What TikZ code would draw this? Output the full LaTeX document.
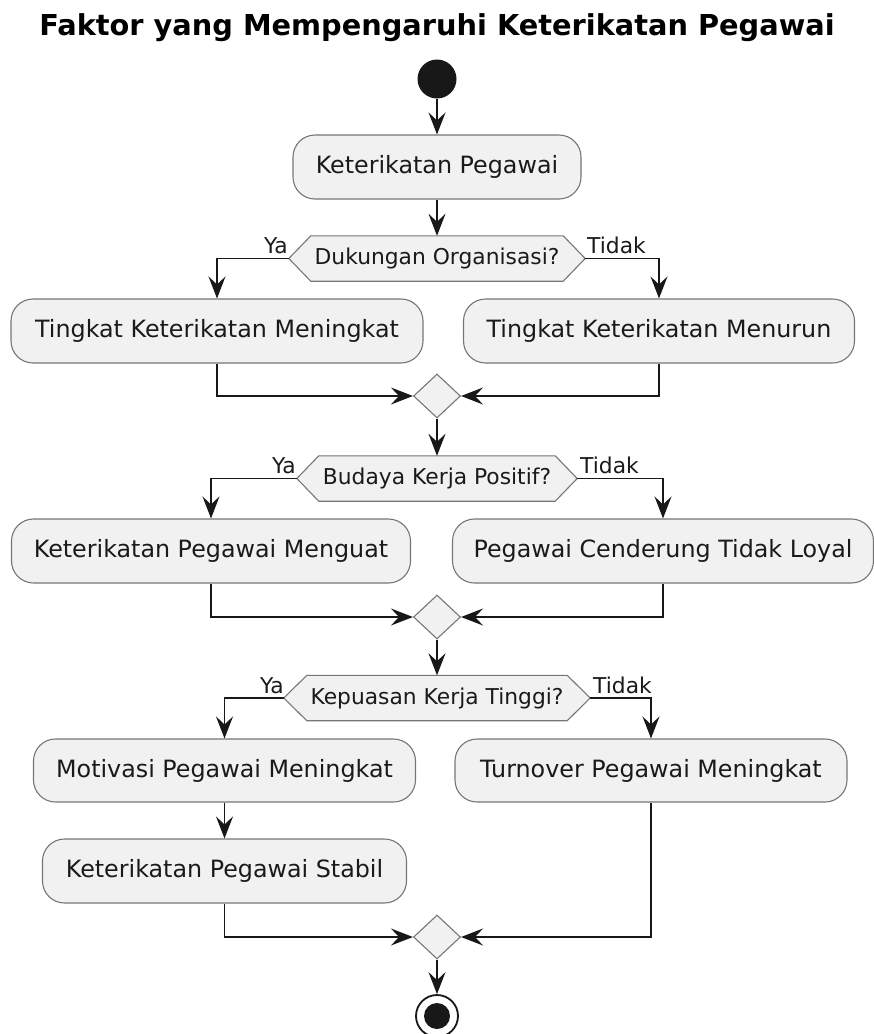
\documentclass[tikz,border=0pt]{standalone}
\usepackage{fontspec}
\setmainfont{DejaVu Sans}
\usetikzlibrary{arrows.meta,shapes.geometric,backgrounds}
\definecolor{actfill}{HTML}{F1F1F1}
\definecolor{bordc}{HTML}{767676}
\definecolor{linec}{HTML}{181818}
\definecolor{txtc}{HTML}{1A1A1A}
\tikzset{
  actbox/.style={draw=bordc, line width=1.1pt, fill=actfill, rounded corners=22pt,
    minimum height=64pt, inner sep=0pt, text=txtc, font=\fontsize{23.8}{28}\selectfont},
  hextext/.style={inner sep=0pt, minimum height=45pt, text=txtc, font=\fontsize{21.8}{26}\selectfont},
  hexline/.style={draw=bordc, line width=1.1pt, fill=actfill},
  mergeD/.style={diamond, draw=bordc, line width=1.1pt, fill=actfill, inner sep=0pt,
    minimum width=47pt, minimum height=44pt},
  flow/.style={draw=linec, line width=1.5pt, -{Stealth[length=22pt,width=17pt,inset=8pt]}},
  lbl/.style={inner sep=0pt, text=txtc, font=\fontsize{21.8}{26}\selectfont},
  titlest/.style={inner sep=0pt, text=black, font=\fontsize{28.8}{34}\selectfont\bfseries}
}
\begin{document}
\begin{tikzpicture}[x=1pt,y=-1pt]
\useasboundingbox (0,0) rectangle (874,1034);
% title
\node[titlest, anchor=base] (title) at (437,35) {Faktor yang Mempengaruhi Keterikatan Pegawai};
% start
\node[circle, fill=linec, inner sep=0pt, minimum size=39pt] (start) at (437,79) {};
% first activity
\node[actbox, minimum width=288pt] (b0) at (437,167) {Keterikatan Pegawai};
% decision 1
\node[hextext, minimum width=252pt] (h1) at (437,258.5) {Dukungan Organisasi?};
\coordinate (h1l) at ([xshift=-22pt]h1.west);
\coordinate (h1r) at ([xshift=22pt]h1.east);
\node[actbox, minimum width=412pt] (b1) at (217,331) {Tingkat Keterikatan Meningkat};
\node[actbox, minimum width=391pt] (b2) at (659,331) {Tingkat Keterikatan Menurun};
\node[mergeD] (d1) at (437,396) {};
% decision 2
\node[hextext, minimum width=236pt] (h2) at (437,478.5) {Budaya Kerja Positif?};
\coordinate (h2l) at ([xshift=-22pt]h2.west);
\coordinate (h2r) at ([xshift=22pt]h2.east);
\node[actbox, minimum width=399pt] (b3) at (211,551) {Keterikatan Pegawai Menguat};
\node[actbox, minimum width=421pt] (b4) at (663,551) {Pegawai Cenderung Tidak Loyal};
\node[mergeD] (d2) at (437,617) {};
% decision 3
\node[hextext, minimum width=260pt] (h3) at (437,698) {Kepuasan Kerja Tinggi?};
\coordinate (h3l) at ([xshift=-23pt]h3.west);
\coordinate (h3r) at ([xshift=23pt]h3.east);
\node[actbox, minimum width=382pt, minimum height=63pt] (b5) at (224.5,770.5) {Motivasi Pegawai Meningkat};
\node[actbox, minimum width=392pt, minimum height=63pt] (b6) at (651,770.5) {Turnover Pegawai Meningkat};
\node[actbox, minimum width=364pt] (b7) at (224.5,871) {Keterikatan Pegawai Stabil};
\node[mergeD] (d3) at (437,937) {};
% end
\node[circle, draw=linec, line width=1.8pt, fill=white, inner sep=0pt, minimum size=42pt] (stop) at (437,1016) {};
\node[circle, fill=linec, inner sep=0pt, minimum size=26pt] (stopin) at (stop.center) {};
% hexagon outlines
\begin{scope}[on background layer]
\draw[hexline] (h1.north west) -- (h1.north east) -- (h1r) -- (h1.south east) -- (h1.south west) -- (h1l) -- cycle;
\draw[hexline] (h2.north west) -- (h2.north east) -- (h2r) -- (h2.south east) -- (h2.south west) -- (h2l) -- cycle;
\draw[hexline] (h3.north west) -- (h3.north east) -- (h3r) -- (h3.south east) -- (h3.south west) -- (h3l) -- cycle;
\end{scope}
% labels
\node[lbl, anchor=base east] (ya1) at (288,253) {Ya};
\node[lbl, anchor=base west] (td1) at (587,253) {Tidak};
\node[lbl, anchor=base east] (ya2) at (296,473) {Ya};
\node[lbl, anchor=base west] (td2) at (580,473) {Tidak};
\node[lbl, anchor=base east] (ya3) at (284,693) {Ya};
\node[lbl, anchor=base west] (td3) at (593,693) {Tidak};
% connectors
\draw[flow] (start.south) -- (b0.north);
\draw[flow] (b0.south) -- (h1.north);
\draw[flow] (h1l) -| (b1.north);
\draw[flow] (h1r) -| (b2.north);
\draw[flow] (b1.south) |- (d1.west);
\draw[flow] (b2.south) |- (d1.east);
\draw[flow] (d1.south) -- (h2.north);
\draw[flow] (h2l) -| (b3.north);
\draw[flow] (h2r) -| (b4.north);
\draw[flow] (b3.south) |- (d2.west);
\draw[flow] (b4.south) |- (d2.east);
\draw[flow] (d2.south) -- (h3.north);
\draw[flow] (h3l) -| (b5.north);
\draw[flow] (h3r) -| (b6.north);
\draw[flow] (b5.south) -- (b7.north);
\draw[flow] (b7.south) |- (d3.west);
\draw[flow] (b6.south) |- (d3.east);
\draw[flow] (d3.south) -- (stop.north);
\end{tikzpicture}
\end{document}
